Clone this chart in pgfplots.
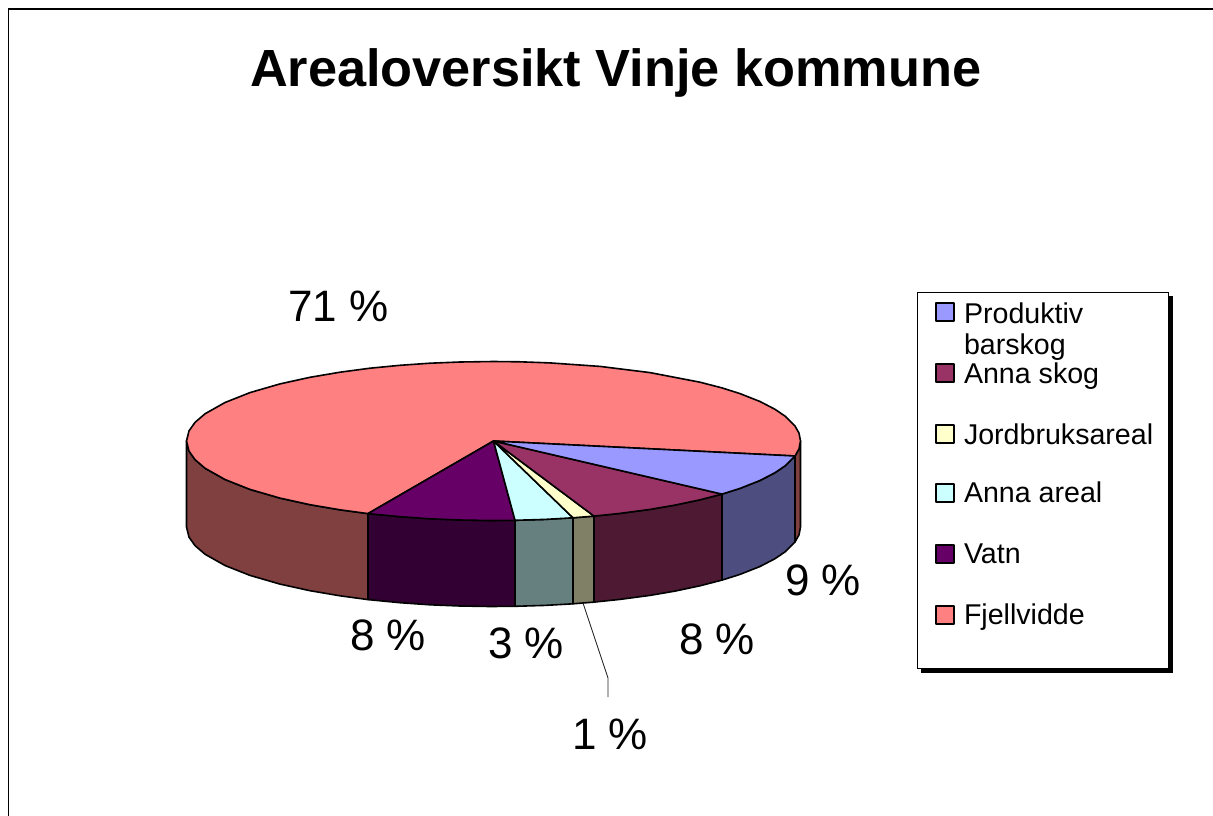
\documentclass[border=0pt]{standalone}
\usepackage{pgfplots}
\pgfplotsset{compat=1.18}
\usepackage{fontspec}
\setmainfont{Liberation Sans}
\definecolor{fjell}{HTML}{FF8080}
\definecolor{fjelld}{HTML}{804040}
\definecolor{vatn}{HTML}{660066}
\definecolor{vatnd}{HTML}{330033}
\definecolor{areal}{HTML}{CCFFFF}
\definecolor{areald}{HTML}{668080}
\definecolor{jord}{HTML}{FFFFCC}
\definecolor{jordd}{HTML}{808066}
\definecolor{skog}{HTML}{993366}
\definecolor{skogd}{HTML}{4D1933}
\definecolor{bar}{HTML}{9999FF}
\definecolor{bard}{HTML}{4D4D80}
\newcommand{\lab}[1]{{\fontsize{44}{50}\selectfont #1}}
\newcommand{\leg}[1]{{\fontsize{28.6}{34}\selectfont #1}}
\pgfplotsset{pie/.style={no markers,draw=black,line width=1.6pt,line join=round,forget plot}}
\begin{document}
\begin{tikzpicture}
\begin{axis}[
  name=main,anchor=south west,at={(0pt,0pt)},
  scale only axis,width=1213pt,height=816pt,
  xmin=0,xmax=1213,ymin=0,ymax=816,y dir=reverse,hide axis,clip=true]
% frame
\addplot[no markers,black,line width=1.4pt] coordinates {(8.5,816) (8.5,9) (1213,9)};
% side faces
\addplot[pie,fill=fjelld] coordinates {(186.5,441) (189,451.1) (195,459.6) (205,468.2) (225,479.5) (250,489.4) (280,498.1) (310,504.7) (340,509.8) (368,513.6) (368,599.6) (340,595.8) (310,590.7) (280,584.1) (250,575.4) (225,565.5) (205,554.2) (195,545.6) (189,537.1) (186.5,527)} --cycle;
\addplot[pie,fill=vatnd] coordinates {(368,513.6) (400,516.7) (430,518.8) (460,520) (490,520.5) (515,520.3) (515,606.3) (490,606.5) (460,606) (430,604.8) (400,602.7) (368,599.6)} --cycle;
\addplot[pie,fill=areald] coordinates {(515,520.3) (545,519.4) (573,517.8) (573,603.8) (545,605.4) (515,606.3)} --cycle;
\addplot[pie,fill=jordd] coordinates {(573,517.8) (594,516.1) (594,602.1) (573,603.8)} --cycle;
\addplot[pie,fill=skogd] coordinates {(594,516.1) (620,513.4) (650,509.4) (675,505.1) (700,499.8) (722,494.1) (722,580.1) (700,585.8) (675,591.1) (650,595.4) (620,599.4) (594,602.1)} --cycle;
\addplot[pie,fill=bard] coordinates {(722,494.1) (740,488.4) (760,480.5) (775,472.7) (785,465.9) (795,456) (795,542) (785,551.9) (775,558.7) (760,566.5) (740,574.4) (722,580.1)} --cycle;
\addplot[pie,fill=fjelld] coordinates {(795,456) (799,448.9) (800.5,441) (800.5,527) (799,534.9) (795,542)} --cycle;
% top faces
\addplot[pie,fill=fjell] coordinates {(493.5,441) (368,513.6) (340,509.8) (310,504.7) (280,498.1) (250,489.4) (225,479.5) (205,468.2) (195,459.6) (189,451.1) (186.5,441) (189,430.9) (195,422.4) (205,413.8) (225,402.5) (250,392.6) (280,383.9) (310,377.3) (340,372.2) (370,368.2) (400,365.3) (430,363.2) (460,362) (493.5,361.5) (520,361.8) (550,362.9) (600,366.4) (650,372.6) (700,382.2) (722,387.9) (740,393.6) (760,401.5) (775,409.3) (785,416.1) (795,426) (799,433.1) (800.5,441) (799,448.9) (795,456)} --cycle;
\addplot[pie,fill=vatn] coordinates {(493.5,441) (515,520.3) (490,520.5) (460,520) (430,518.8) (400,516.7) (368,513.6)} --cycle;
\addplot[pie,fill=areal] coordinates {(493.5,441) (573,517.8) (545,519.4) (515,520.3)} --cycle;
\addplot[pie,fill=jord] coordinates {(493.5,441) (594,516.1) (573,517.8)} --cycle;
\addplot[pie,fill=skog] coordinates {(493.5,441) (722,494.1) (700,499.8) (675,505.1) (650,509.4) (620,513.4) (594,516.1)} --cycle;
\addplot[pie,fill=bar] coordinates {(493.5,441) (795,456) (785,465.9) (775,472.7) (760,480.5) (740,488.4) (722,494.1)} --cycle;
% leader
\addplot[no markers,black!85,line width=0.9pt] coordinates {(583,603) (608,678) (608,697)};
% legend
\addplot[no markers,fill=black,draw=none] coordinates {(921,296) (1172.5,296) (1172.5,672.5) (921,672.5)} --cycle;
\addplot[no markers,fill=white,draw=black,line width=1pt] coordinates {(917,292.5) (1168,292.5) (1168,668) (917,668)} --cycle;
\addplot[pie,line width=1.2pt,fill=bar] coordinates {(936,303) (954,303) (954,321) (936,321)} --cycle;
\addplot[pie,line width=1.2pt,fill=skog] coordinates {(936,364) (954,364) (954,382) (936,382)} --cycle;
\addplot[pie,line width=1.2pt,fill=jord] coordinates {(936,425) (954,425) (954,443) (936,443)} --cycle;
\addplot[pie,line width=1.2pt,fill=areal] coordinates {(936,484) (954,484) (954,502) (936,502)} --cycle;
\addplot[pie,line width=1.2pt,fill=vatn] coordinates {(936,545) (954,545) (954,563) (936,563)} --cycle;
\addplot[pie,line width=1.2pt,fill=fjell] coordinates {(936,606) (954,606) (954,624) (936,624)} --cycle;
\tikzset{every node/.style={anchor=base west,inner sep=0pt,outer sep=0pt,black}}
\node at (axis cs:250,87) {\fontsize{52.3}{58}\selectfont\bfseries Arealoversikt Vinje kommune};
\node at (axis cs:288,321.5) {\lab{71 \%}};
\node at (axis cs:785,595) {\lab{9 \%}};
\node at (axis cs:679,654) {\lab{8 \%}};
\node at (axis cs:350,650.5) {\lab{8 \%}};
\node at (axis cs:488,658) {\lab{3 \%}};
\node at (axis cs:572,749) {\lab{1 \%}};
\node at (axis cs:964,323) {\leg{Produktiv}};
\node at (axis cs:964,354) {\leg{barskog}};
\node at (axis cs:964,383) {\leg{Anna skog}};
\node at (axis cs:964,444) {\leg{Jordbruksareal}};
\node at (axis cs:964,502) {\leg{Anna areal}};
\node at (axis cs:964,563) {\leg{Vatn}};
\node at (axis cs:964,624) {\leg{Fjellvidde}};
\end{axis}
\path (0pt,0pt) rectangle (1213pt,816pt);
\end{tikzpicture}
\end{document}
